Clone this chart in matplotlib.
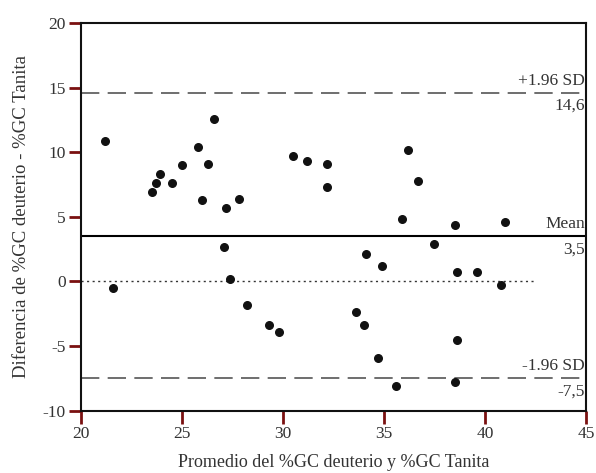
import matplotlib.pyplot as plt

plt.rcParams['font.family'] = ['Liberation Serif', 'DejaVu Serif']
plt.rcParams['axes.unicode_minus'] = False

# promedio (x) y diferencia (y) de %GC
promedio = [21.2, 23.5, 23.7, 23.9, 24.5, 25.0, 25.8, 26.0, 26.3, 26.6, 27.2, 27.8,
            30.5, 31.2, 32.2, 32.2, 36.2, 36.7, 35.9, 38.5, 41.0,
            21.6, 27.1, 27.4, 28.2, 29.3, 29.8,
            34.1, 34.9, 37.5, 38.6, 39.6, 40.8, 33.6, 34.0, 38.6, 34.7, 35.6, 38.5]
diferencia = [10.9, 6.9, 7.6, 8.3, 7.6, 9.0, 10.4, 6.3, 9.1, 12.6, 5.7, 6.4,
              9.7, 9.3, 9.1, 7.3, 10.2, 7.8, 4.8, 4.4, 4.6,
              -0.5, 2.7, 0.2, -1.8, -3.4, -3.9,
              2.1, 1.2, 2.9, 0.7, 0.7, -0.3, -2.4, -3.4, -4.5, -5.9, -8.1, -7.8]

media = 3.5
sd_sup = 14.6
sd_inf = -7.5

fig = plt.figure(figsize=(5.96, 4.73), dpi=100)
ax = fig.add_axes([0.136, 0.132, 0.847, 0.819])

ax.scatter(promedio, diferencia, s=30, color='#111111', zorder=3)

ax.axhline(media, color='black', lw=1.5)
ax.axhline(sd_sup, color='#555555', lw=1.2, ls=(0, (11, 5)))
ax.axhline(sd_inf, color='#555555', lw=1.2, ls=(0, (11, 5)))
ax.plot([20, 42.5], [0, 0], color='#333333', lw=1.0, ls=(0, (1.5, 2.5)))

txt = dict(ha='right', fontsize=12.5, color='#333333')
ax.text(44.95, sd_sup + 0.3, '+1.96 SD', va='bottom', **txt)
ax.text(44.95, sd_sup - 0.4, '14,6', va='top', **txt)
ax.text(44.95, media + 0.3, 'Mean', va='bottom', **txt)
ax.text(44.95, media - 0.4, '3,5', va='top', **txt)
ax.text(44.95, sd_inf + 0.3, '-1.96 SD', va='bottom', **txt)
ax.text(44.95, sd_inf - 0.4, '-7,5', va='top', **txt)

ax.set_xlim(20, 45)
ax.set_ylim(-10, 20)
ax.set_xticks([20, 25, 30, 35, 40, 45])
ax.set_yticks([-10, -5, 0, 5, 10, 15, 20])

for s in ax.spines.values():
    s.set_linewidth(1.5)
    s.set_color('#111111')

ax.tick_params(direction='out', length=9, width=2, color='#7a1010',
               labelsize=12.5, labelcolor='#333333', pad=2)

ax.set_xlabel('Promedio del %GC deuterio y %GC Tanita', fontsize=13,
              color='#333333', labelpad=9)
ax.set_ylabel('Diferencia de %GC deuterio - %GC Tanita', fontsize=13.5,
              color='#333333', labelpad=9)

fig.savefig('out.png', dpi=100)
